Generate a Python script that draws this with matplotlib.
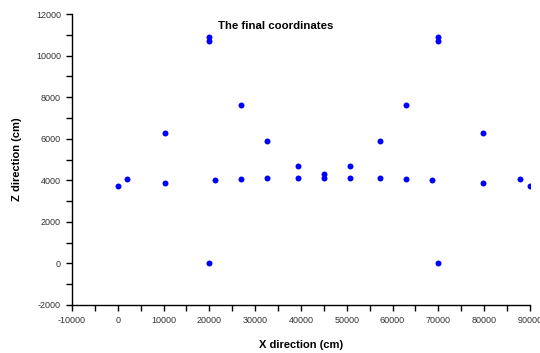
import matplotlib.pyplot as plt
from matplotlib.ticker import MultipleLocator

# final node coordinates (cm)
x_cm = [0, 2100, 10300, 10300, 20000, 20000, 20000, 21300, 27000, 27000,
        32650, 32650, 39300, 39300, 45000, 45000, 50700, 50700, 57350, 57350,
        63000, 63000, 68700, 70000, 70000, 70000, 79700, 79700, 87900, 90000]
z_cm = [3730, 4080, 3890, 6300, 10910, 10730, 0, 4030, 4080, 7610,
        4110, 5870, 4130, 4670, 4130, 4320, 4130, 4670, 4110, 5870,
        4080, 7610, 4030, 10910, 10730, 0, 3890, 6300, 4080, 3730]

plt.rcParams['font.family'] = ['Liberation Sans', 'DejaVu Sans']
plt.rcParams['axes.unicode_minus'] = False

fig = plt.figure(figsize=(5.4, 3.53), dpi=100)
ax = fig.add_axes([0.1333, 0.136, 0.848, 0.824])

ax.plot(x_cm, z_cm, 'o', color='#0000ff', ms=4.3, mec='none')

ax.set_xlim(-10000, 90000)
ax.set_ylim(-2000, 12000)
ax.xaxis.set_major_locator(MultipleLocator(10000))
ax.xaxis.set_minor_locator(MultipleLocator(5000))
ax.yaxis.set_major_locator(MultipleLocator(2000))
ax.yaxis.set_minor_locator(MultipleLocator(1000))

for s in ['top', 'right']:
    ax.spines[s].set_visible(False)
for s in ['left', 'bottom']:
    ax.spines[s].set_linewidth(1.0)

ax.tick_params(which='both', direction='out', length=4.5, width=1.0,
               labelsize=6.5, labelcolor='#333333')

ax.set_xlabel('X direction (cm)', fontsize=8, fontweight='bold', labelpad=11)
ax.set_ylabel('Z direction (cm)', fontsize=8, fontweight='bold', labelpad=10)
ax.text(0.445, 0.959, 'The final coordinates', transform=ax.transAxes,
        ha='center', va='center', fontsize=8.2, fontweight='bold')

fig.savefig('out.png', dpi=100)
